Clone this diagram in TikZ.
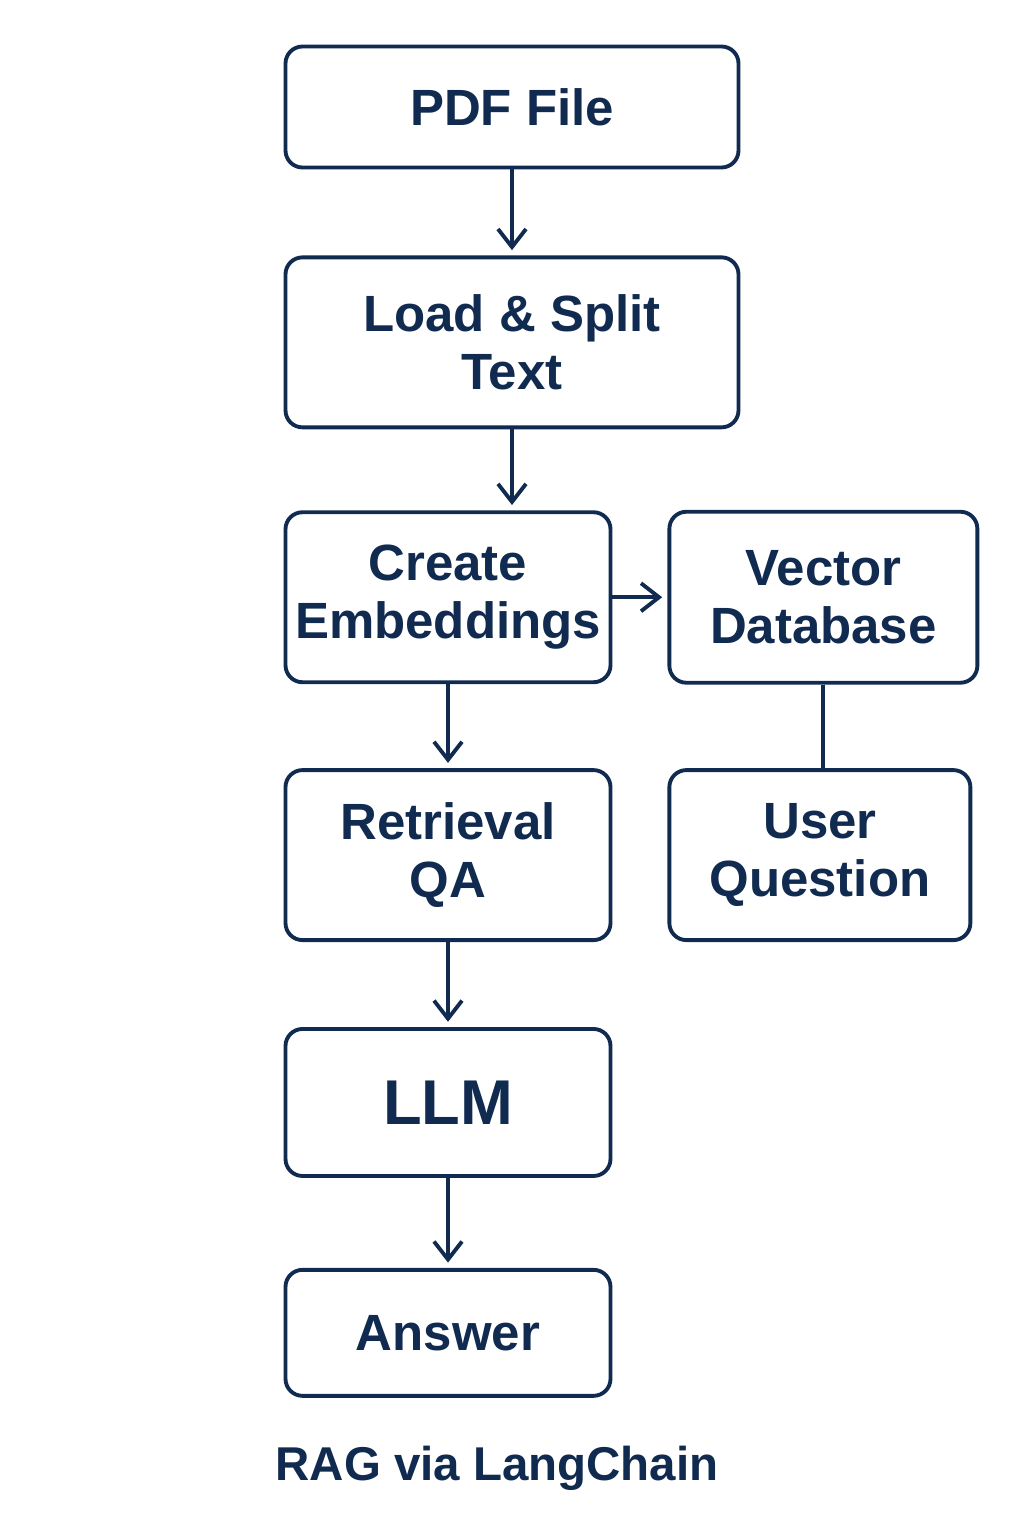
\documentclass[tikz,border=0pt]{standalone}
\usepackage{fontspec}
\setmainfont{Liberation Sans}
\usepackage{tikz}
\usetikzlibrary{positioning,arrows.meta}
\definecolor{navy}{HTML}{102A50}

\tikzset{
	block/.style={draw=navy, line width=2.2pt, rounded corners=0.34cm, align=center, text=navy,
		font=\bfseries\fontsize{29}{33}\selectfont, inner sep=0pt,
		minimum width=6.5cm, minimum height=3.4cm},
}

\begin{document}
\begin{tikzpicture}[->,>={Straight Barb[length=3.6mm,width=5.6mm]},shorten >=3pt,line width=2.2pt,color=navy]
		\path[use as bounding box,fill=white] (0,0) rectangle (20.48,-30.72);

		\node[block,minimum width=9.06cm,minimum height=2.42cm] (pdf) at (10.24,-2.14) {PDF File};
		\node[block,minimum width=9.06cm] (load) [below=1.72cm of pdf] {Load \& Split\\Text};
		\node[block] (embed) [below=1.62cm of load.south west,anchor=north west] {Create\\Embeddings};
		\node[block,minimum width=6.16cm,minimum height=3.42cm] (vecdb) [right=1.1cm of embed] {Vector\\Database};
		\node[block] (retr) [below=1.68cm of embed] {Retrieval\\QA};
		\node[block,minimum width=6.02cm] (quest) [right=1.1cm of retr] {User\\Question};
		\node[block,minimum height=2.94cm,font=\bfseries\fontsize{36}{40}\selectfont] (llm) [below=1.7cm of retr] {LLM};
		\node[block,minimum height=2.52cm] (ans) [below=1.8cm of llm] {Answer};
		\node[text=navy,font=\bfseries\fontsize{27}{30}\selectfont] (title) at (9.94,-29.36) {RAG via LangChain};

		\draw (pdf) -- (load);
		\draw (load.south) -- (load.south |- embed.north);
		\draw (embed) -- (vecdb);
		\draw (embed) -- (retr);
		\draw[-,shorten >=0pt] (vecdb.south) -- (vecdb.south |- quest.north);
		\draw (retr) -- (llm);
		\draw (llm) -- (ans);
	\end{tikzpicture}
\end{document}
